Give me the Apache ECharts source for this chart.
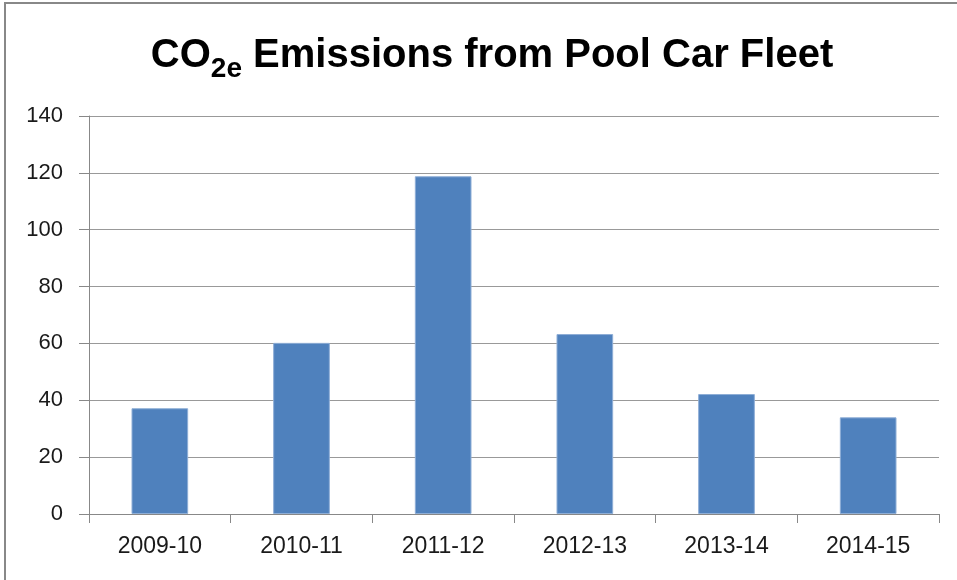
<!DOCTYPE html>
<html>
<head>
<meta charset="utf-8">
<script src="https://cdn.jsdelivr.net/npm/echarts@6/dist/echarts.min.js"></script>
<style>
html,body{margin:0;padding:0;background:#fff;}
#main{width:957px;height:580px;}
</style>
</head>
<body>
<div id="main"></div>
<script>
var years = ['2009-10','2010-11','2011-12','2012-13','2013-14','2014-15'];
var emissions = [37.2, 60.2, 118.8, 63.3, 42.2, 34.0];
var yTicks = [0, 20, 40, 60, 80, 100, 120, 140];

var chart = echarts.init(document.getElementById('main'));
var font = 'Liberation Sans';

var option = {
	backgroundColor:'#fff',
	animation:false,
	title:{
		text:'{a|CO}{b|2e}{a| Emissions from Pool Car Fleet}',
		left:487,
		top:28,
		textAlign:'center',
		textStyle:{
			rich:{
				a:{fontFamily:font,fontWeight:'bold',fontSize:40,color:'#000',lineHeight:46},
				b:{fontFamily:font,fontWeight:'bold',fontSize:28,color:'#000',lineHeight:22,padding:[26,0,0,0]}
			}
		}
	},
	graphic:[{
		type:'rect',
		shape:{x:5,y:3,width:1000,height:1000},
		style:{fill:'none',stroke:'#888',lineWidth:2},
		silent:true
	}],
	grid:{left:89,right:18,top:116,bottom:66},
	xAxis:{
		type:'category',
		data:years,
		axisLine:{lineStyle:{color:'#888',width:1}},
		axisTick:{show:true,length:9,alignWithLabel:false,lineStyle:{color:'#888'}},
		axisLabel:{fontFamily:font,fontSize:23,color:'#1a1a1a',margin:21}
	},
	yAxis:{
		type:'value',
		min:yTicks[0],
		max:yTicks[yTicks.length-1],
		interval:yTicks[1]-yTicks[0],
		axisLine:{show:true,lineStyle:{color:'#888',width:1}},
		axisTick:{show:true,length:10,lineStyle:{color:'#888'}},
		axisLabel:{fontFamily:font,fontSize:22,color:'#1a1a1a',margin:26},
		splitLine:{lineStyle:{color:'#999',width:1}}
	},
	series:[{
		type:'bar',
		data:emissions,
		barWidth:'40%',
		itemStyle:{color:'#4F81BD',borderColor:'#8eaed6',borderWidth:1}
	}]
};
chart.setOption(option);
</script>
</body>
</html>
